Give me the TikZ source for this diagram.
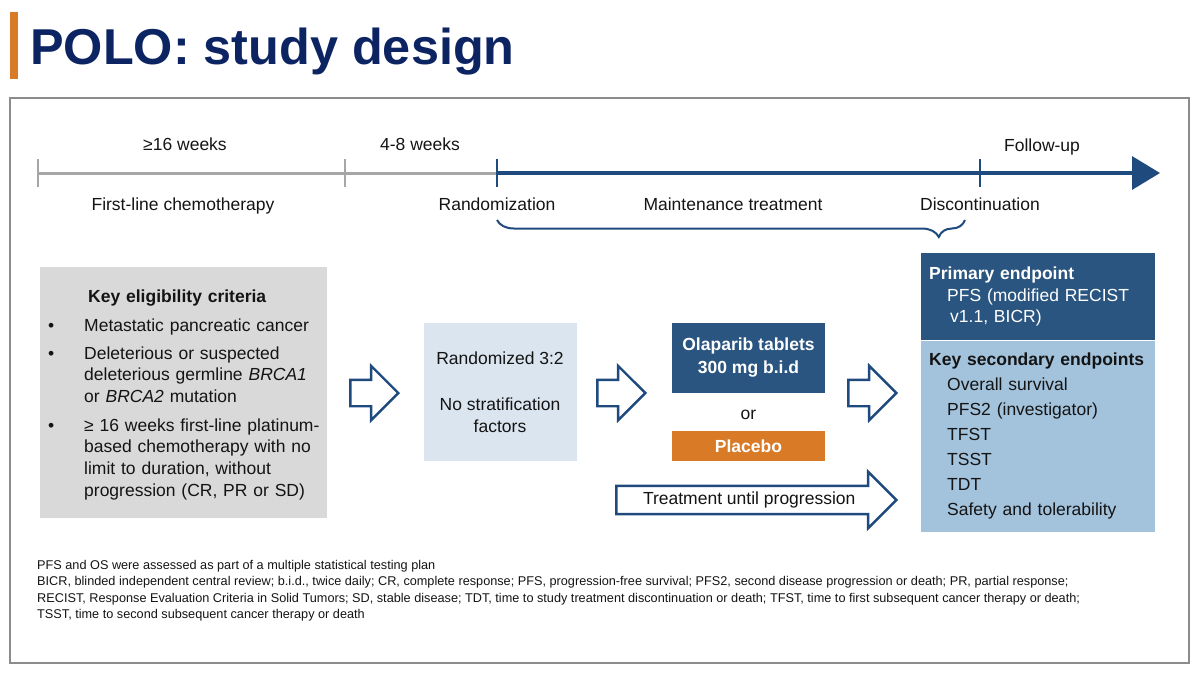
\documentclass[tikz,border=0pt]{standalone}
\usepackage{fontspec}
\setmainfont{Liberation Sans}
\usetikzlibrary{arrows.meta, positioning, shapes.arrows, decorations.pathreplacing, calc}
\definecolor{titleNavy}{HTML}{0D2463}
\definecolor{accentOrange}{HTML}{D97A26}
\definecolor{lineBlue}{HTML}{1F4A7E}
\definecolor{lineGray}{HTML}{A6A6A6}
\definecolor{frameGray}{HTML}{8C8C8C}
\definecolor{critGray}{HTML}{D9D9D9}
\definecolor{randBlue}{HTML}{DAE5EF}
\definecolor{armBlue}{HTML}{2A5580}
\definecolor{secBlue}{HTML}{A3C2DC}
\definecolor{textDark}{HTML}{141414}

\begin{document}
\begin{tikzpicture}[
  x=1pt, y=-1pt,                                  % 1 unit = 1 px of the slide, y grows downwards
  font=\fontsize{17.5}{21.7}\selectfont,
  phase/.style={inner sep=0pt, anchor=base, text=textDark},
  grayline/.style={draw=lineGray, line width=3pt},
  blueline/.style={draw=lineBlue, line width=3.5pt},
  blockarrow/.style={single arrow, draw=lineBlue, line width=2.4pt, fill=white,
                     single arrow head extend=14pt, minimum height=48pt,
                     inner xsep=0pt, inner ysep=12pt, anchor=tip, text=textDark},
  critbox/.style={rectangle, fill=critGray, anchor=north west, inner sep=0pt,
                  minimum width=287pt, minimum height=251pt},
  randbox/.style={rectangle, fill=randBlue, align=center, text=textDark,
                  minimum width=153pt, minimum height=138pt},
  armbox/.style={rectangle, fill=armBlue, align=center, text=white, font=\fontsize{17.5}{23}\selectfont\bfseries,
                 minimum width=153pt, minimum height=70pt},
  placebobox/.style={rectangle, fill=accentOrange, text=white, font=\fontsize{17.5}{23}\selectfont\bfseries,
                     minimum width=153pt, minimum height=30pt},
  primbox/.style={rectangle, fill=armBlue, text=white, anchor=north west, align=left,
                  text width=218pt, inner xsep=8pt, inner ysep=0pt, minimum height=87pt},
  secbox/.style={rectangle, fill=secBlue, text=textDark, align=left,
                 font=\fontsize{17.5}{25}\selectfont,
                 text width=218pt, inner xsep=8pt, inner ysep=0pt, minimum height=191pt},
  item/.style={anchor=base west, inner sep=0pt, text width=245pt, align=left, text=textDark},
  bullet/.style={anchor=base west, inner sep=0pt, text=textDark}
]
  \useasboundingbox (0,0) rectangle (1200,675);

  % --- title ---
  \fill[accentOrange] (10,12) rectangle (18,79);
  \node[anchor=base west, inner sep=0pt, text=titleNavy,
        font=\fontsize{50.4}{58}\selectfont\bfseries] (title) at (30,64) {POLO: study design};

  % --- slide frame ---
  \node[draw=frameGray, line width=1.5pt, anchor=north west, inner sep=0pt,
        minimum width=1179pt, minimum height=565pt] (frame) at (9,97) {};

  % --- timeline ---
  \coordinate (tStart) at (38,173);
  \coordinate (tChemo) at (345,173);
  \coordinate (tRand)  at (497,173);
  \coordinate (tDisc)  at (980,173);
  \coordinate (tEnd)   at (1160,173);

  \draw[grayline] (tStart) -- (tRand);
  \draw[blueline, -{Triangle[length=28pt, width=33pt]}] (tRand) -- (tEnd);
  \foreach \c in {tStart, tChemo}
    \draw[grayline, line width=2.5pt] ([yshift=14pt]\c) -- ([yshift=-14pt]\c);
  \foreach \c in {tRand, tDisc}
    \draw[blueline, line width=2.5pt] ([yshift=14pt]\c) -- ([yshift=-14pt]\c);

  \node[phase] (wk16)     at (185,150) {≥16 weeks};
  \node[phase] (wk48)     at (420,150) {4-8 weeks};
  \node[phase] (followup) at (1042,151) {Follow-up};
  \node[phase] (chemo)    at (183,210) {First-line chemotherapy};
  \node[phase] (randlbl)  at (497,210) {Randomization};
  \node[phase] (maintlbl) at (733,210) {Maintenance treatment};
  \node[phase] (disclbl)  at (980,210) {Discontinuation};

  % brace under the maintenance period
  \draw[lineBlue, line width=2pt, decorate,
        decoration={brace, mirror, amplitude=17pt, aspect=0.944}]
    ($(tRand)+(0,47)$) -- ($(tDisc)+(-15,47)$);

  % --- eligibility criteria ---
  \node[critbox] (crit) at (40,267) {};
  \node[item] (crithead) at (88,302) {\textbf{Key eligibility criteria}};
  \node[bullet] (b1) at (48,331) {•};
  \node[bullet] (b2) at (48,359) {•};
  \node[bullet] (b3) at (48,431) {•};
  \node[item] (c1) at (84,331) {Metastatic pancreatic cancer};
  \node[item] (c2) at (84,359) {Deleterious or suspected\\deleterious germline \textit{BRCA1}\\or \textit{BRCA2} mutation};
  \node[item] (c3) at (84,431) {≥ 16 weeks first-line platinum-\\based chemotherapy with no\\limit to duration, without\\progression (CR, PR or SD)};

  % --- randomisation and arms ---
  \node[blockarrow] (arrA) at (400,393) {};
  \node[randbox] (randbox) at (500,392) {Randomized 3:2\\[24.5pt]No stratification\\factors};
  \node[blockarrow] (arrB) at (647,393) {};
  \node[armbox] (olaparib) at (748.5,358) {Olaparib tablets\\300 mg b.i.d};
  \node[phase] (orlbl) at (748.5,419) {or};
  \node[placebobox] (placebo) at (748.5,446) {Placebo};
  \node[blockarrow] (arrC) at (898,393) {};
  \node[blockarrow, minimum height=280pt, inner ysep=4.8pt] (untilprog) at (898,500)
    {Treatment until progression};

  % --- endpoints ---
  \node[primbox] (primary) at (921,253)
    {\textbf{Primary endpoint}\\\hspace*{18pt}PFS (modified RECIST\\\hspace*{21pt}v1.1, BICR)};
  \node[secbox, below=0pt of primary] (secondary)
    {\textbf{Key secondary endpoints}\\\hspace*{18pt}Overall survival\\\hspace*{18pt}PFS2 (investigator)\\
     \hspace*{18pt}TFST\\\hspace*{18pt}TSST\\\hspace*{18pt}TDT\\\hspace*{18pt}Safety and tolerability};

  % --- footnotes ---
  \node[anchor=north west, inner sep=0pt, align=left, text=textDark,
        font=\fontsize{12.7}{16.3}\selectfont] (notes) at (37,560)
    {PFS and OS were assessed as part of a multiple statistical testing plan\\
     BICR, blinded independent central review; b.i.d., twice daily; CR, complete response; PFS, progression-free survival; PFS2, second disease progression or death; PR, partial response;\\
     RECIST, Response Evaluation Criteria in Solid Tumors; SD, stable disease; TDT, time to study treatment discontinuation or death; TFST, time to first subsequent cancer therapy or death;\\
     TSST, time to second subsequent cancer therapy or death};
\end{tikzpicture}
\end{document}
